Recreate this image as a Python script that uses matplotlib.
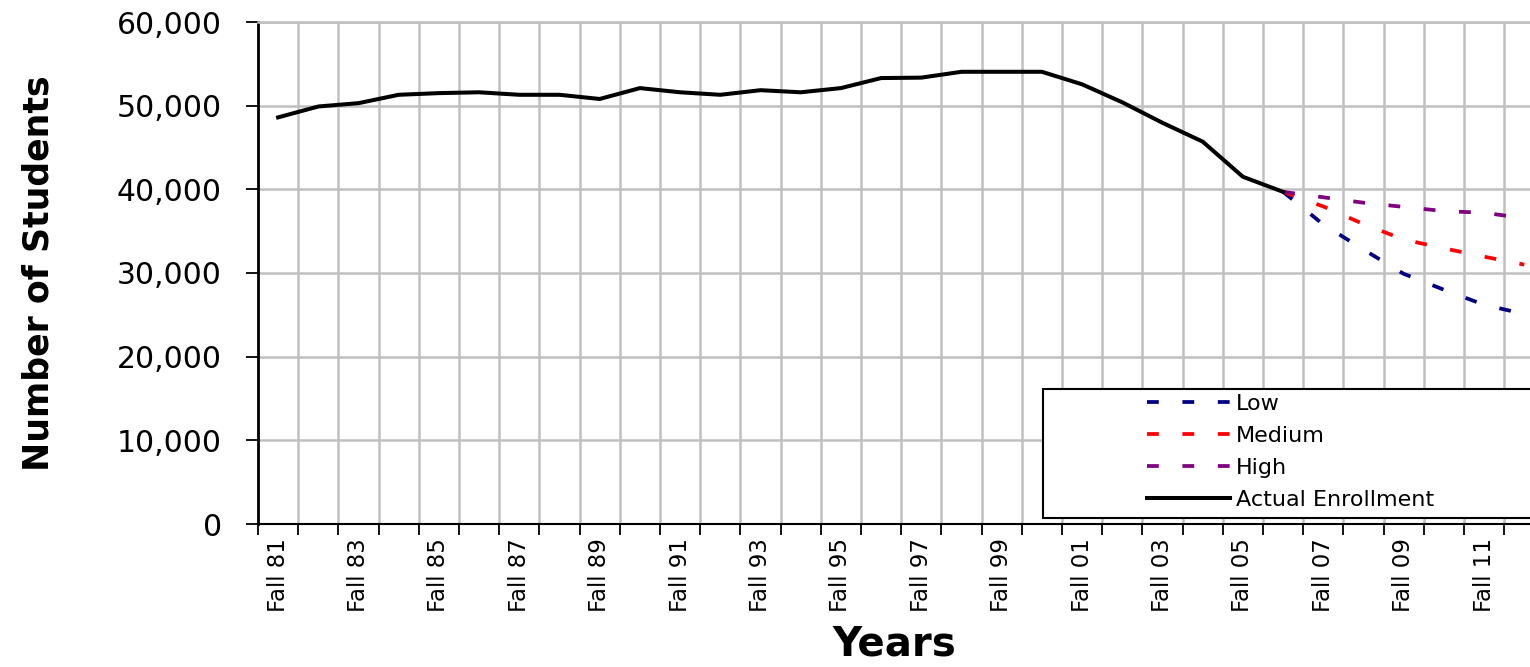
import numpy as np
import matplotlib
matplotlib.use('Agg')
import matplotlib.pyplot as plt
from matplotlib.patches import Rectangle
from matplotlib.ticker import FuncFormatter, FixedLocator

plt.rcParams['font.family'] = 'DejaVu Sans'
plt.rcParams['lines.scale_dashes'] = False

# school years on the category axis
YEARS = ['Fall 81', 'Fall 82', 'Fall 83', 'Fall 84', 'Fall 85', 'Fall 86', 'Fall 87', 'Fall 88',
         'Fall 89', 'Fall 90', 'Fall 91', 'Fall 92', 'Fall 93', 'Fall 94', 'Fall 95', 'Fall 96',
         'Fall 97', 'Fall 98', 'Fall 99', 'Fall 00', 'Fall 01', 'Fall 02', 'Fall 03', 'Fall 04',
         'Fall 05', 'Fall 06', 'Fall 07', 'Fall 08', 'Fall 09', 'Fall 10', 'Fall 11', 'Fall 12']

# Fall 81 .. Fall 06
ACTUAL = [48600, 49900, 50300, 51300, 51500, 51600, 51300, 51300, 50800, 52100,
          51600, 51300, 51850, 51600, 52100, 53300, 53350, 54050, 54050, 54050,
          52550, 50400, 47950, 45700, 41500, 39700]

# projections, Fall 06 .. Fall 12
LOW = [39700, 35800, 32800, 29900, 28000, 26200, 25100]
MEDIUM = [39700, 37950, 35850, 34000, 32950, 31950, 31000]
HIGH = [39700, 39050, 38400, 37900, 37400, 37200, 36550]

W, H = 1530, 667
fig = plt.figure(figsize=(W / 100, H / 100), dpi=100)
ax = fig.add_axes([258 / W, 1 - 524 / H, 1 - 258 / W, (524 - 22) / H])

x_all = np.arange(len(YEARS))
x_act = x_all[:len(ACTUAL)]
x_proj = x_all[len(ACTUAL) - 1:]

dash = (0, (8.5, 17))
ax.plot(x_proj, LOW, color='#000080', lw=2.7, linestyle=dash, label='Low', zorder=3)
ax.plot(x_proj, MEDIUM, color='#FF0000', lw=2.7, linestyle=dash, label='Medium', zorder=3)
ax.plot(x_proj, HIGH, color='#800080', lw=2.7, linestyle=dash, label='High', zorder=3)
ax.plot(x_act, ACTUAL, color='black', lw=2.9, label='Actual Enrollment', zorder=4)

ax.set_xlim(-0.5, -0.5 + (W - 258) / 40.2)
ax.set_ylim(0, 60000)

# boundaries between categories carry ticks and grid, labels sit in the middle
ax.xaxis.set_major_locator(FixedLocator(np.arange(-0.5, len(YEARS) + 0.5, 1)))
ax.xaxis.set_minor_locator(FixedLocator(x_all[::2]))
ax.xaxis.set_major_formatter(FuncFormatter(lambda v, p: ''))
ax.set_xticklabels(YEARS[::2], minor=True, rotation=90, fontsize=16.5)
ax.tick_params(axis='x', which='major', direction='out', length=8, width=1.3, color='black')
ax.tick_params(axis='x', which='minor', length=0, pad=10)

ax.set_yticks(np.arange(0, 60001, 10000))
ax.yaxis.set_major_formatter(FuncFormatter(lambda v, p: f'{int(v):,}'))
ax.tick_params(axis='y', direction='out', length=9, width=1.3, labelsize=21.5, pad=17)

ax.grid(True, which='major', color='#c0c0c0', lw=1.8, zorder=0)
ax.set_axisbelow(True)

ax.spines['right'].set_visible(False)
ax.spines['top'].set_color('#c0c0c0')
ax.spines['top'].set_linewidth(1.8)
ax.spines['left'].set_linewidth(2)
ax.spines['bottom'].set_linewidth(1.5)

ax.set_ylabel('Number of Students', fontsize=25, fontweight='bold', labelpad=44)
ax.set_xlabel('Years', fontsize=29, fontweight='bold', labelpad=9)

# legend box, running past the right edge like in the source
box = Rectangle((1043 / W, 1 - 518 / H), 0.4, (518 - 389) / H, transform=fig.transFigure,
                facecolor='white', edgecolor='black', lw=1.5, zorder=5, clip_on=False)
ax.add_patch(box)
leg = ax.legend(loc='upper left', bbox_to_anchor=(1147 / W, 1 - 394 / H),
                bbox_transform=fig.transFigure, frameon=False, fontsize=16,
                handlelength=3.75, handletextpad=0.25, labelspacing=0.54,
                borderpad=0, borderaxespad=0)
leg.set_zorder(6)

plt.savefig('out.png', dpi=100)
plt.close()
